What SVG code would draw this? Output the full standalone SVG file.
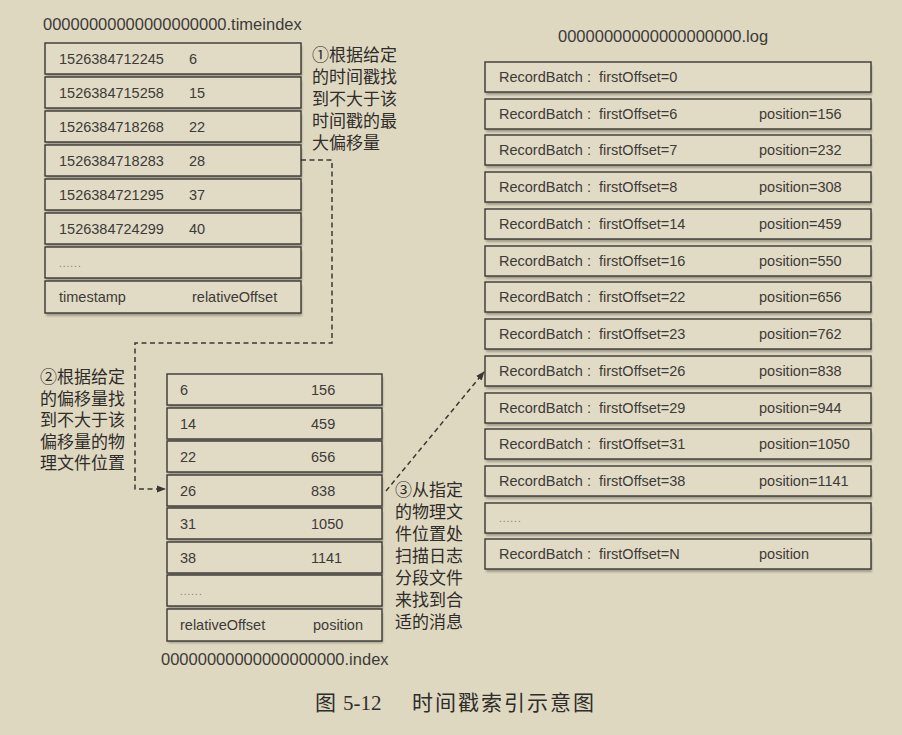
<svg xmlns="http://www.w3.org/2000/svg" width="902" height="735" viewBox="0 0 902 735">
  <defs>
    <style>
      .bg { fill: #dfd8c1; }
      .box { fill: #e1dac5; stroke: #3a3835; stroke-width: 1.4; }
      .shadow { fill: #6f6a5e; opacity: 0.55; filter: url(#soft); }
      .t { font-family: "Liberation Sans", Arial, sans-serif; font-size: 14.5px; fill: #3d3b38; }
      .title { font-family: "Liberation Sans", Arial, sans-serif; font-size: 16.5px; fill: #3d3b38; }
      .dots { font-family: "Liberation Sans", Arial, sans-serif; font-size: 10px; fill: #7d7a72; letter-spacing: 1px; }
      .cn { font-family: "Liberation Sans", "Noto Sans CJK SC", sans-serif; font-size: 17px; fill: #2f2d2a; }
      .cap { font-family: "Liberation Serif", "Noto Sans CJK SC", serif; font-size: 21px; fill: #2f2d2a; }
      .dash { fill: none; stroke: #3a3835; stroke-width: 1.5; stroke-dasharray: 5 3.5; }
    </style>
    <filter id="soft" x="-5%" y="-30%" width="110%" height="160%">
      <feGaussianBlur stdDeviation="1.2"/>
    </filter>
    <marker id="arr" viewBox="0 0 10 10" refX="9" refY="5" markerWidth="9" markerHeight="9" markerUnits="userSpaceOnUse" orient="auto">
      <path d="M0,1 L10,5 L0,9 Z" fill="#3a3835"/>
    </marker>
  </defs>

  <rect class="bg" x="0" y="0" width="902" height="735"/>

  <!-- time index file -->
  <g id="timeindex">
    <text class="title" x="43" y="30">00000000000000000000.timeindex</text>
    <g id="ti-row1"><rect class="shadow" x="46" y="46" width="256" height="31"/><rect class="box" x="45" y="43" width="256" height="31"/><text class="t" x="59" y="63.5">1526384712245</text><text class="t" x="189" y="63.5">6</text></g>
    <g id="ti-row2"><rect class="shadow" x="46" y="80" width="256" height="31"/><rect class="box" x="45" y="77" width="256" height="31"/><text class="t" x="59" y="97.5">1526384715258</text><text class="t" x="189" y="97.5">15</text></g>
    <g id="ti-row3"><rect class="shadow" x="46" y="114" width="256" height="31"/><rect class="box" x="45" y="111" width="256" height="31"/><text class="t" x="59" y="131.5">1526384718268</text><text class="t" x="189" y="131.5">22</text></g>
    <g id="ti-row4"><rect class="shadow" x="46" y="148" width="256" height="31"/><rect class="box" x="45" y="145" width="256" height="31"/><text class="t" x="59" y="165.5">1526384718283</text><text class="t" x="189" y="165.5">28</text></g>
    <g id="ti-row5"><rect class="shadow" x="46" y="182" width="256" height="31"/><rect class="box" x="45" y="179" width="256" height="31"/><text class="t" x="59" y="199.5">1526384721295</text><text class="t" x="189" y="199.5">37</text></g>
    <g id="ti-row6"><rect class="shadow" x="46" y="216" width="256" height="31"/><rect class="box" x="45" y="213" width="256" height="31"/><text class="t" x="59" y="233.5">1526384724299</text><text class="t" x="189" y="233.5">40</text></g>
    <g id="ti-row7"><rect class="shadow" x="46" y="250" width="256" height="31"/><rect class="box" x="45" y="247" width="256" height="31"/><text class="dots" x="59" y="267">......</text></g>
    <g id="ti-row8"><rect class="shadow" x="46" y="285" width="256" height="31"/><rect class="box" x="45" y="281" width="256" height="32"/><text class="t" x="59" y="302">timestamp</text><text class="t" x="192" y="302">relativeOffset</text></g>
  </g>

  <!-- offset index file -->
  <g id="index">
    <g id="ix-row1"><rect class="shadow" x="168" y="377" width="215" height="31"/><rect class="box" x="167" y="374" width="215" height="31"/><text class="t" x="180" y="394.5">6</text><text class="t" x="311" y="394.5">156</text></g>
    <g id="ix-row2"><rect class="shadow" x="168" y="411" width="215" height="31"/><rect class="box" x="167" y="408" width="215" height="31"/><text class="t" x="180" y="428.5">14</text><text class="t" x="311" y="428.5">459</text></g>
    <g id="ix-row3"><rect class="shadow" x="168" y="444" width="215" height="31"/><rect class="box" x="167" y="441" width="215" height="31"/><text class="t" x="180" y="461.5">22</text><text class="t" x="311" y="461.5">656</text></g>
    <g id="ix-row4"><rect class="shadow" x="168" y="478" width="215" height="31"/><rect class="box" x="167" y="475" width="215" height="31"/><text class="t" x="180" y="495.5">26</text><text class="t" x="311" y="495.5">838</text></g>
    <g id="ix-row5"><rect class="shadow" x="168" y="511" width="215" height="31"/><rect class="box" x="167" y="508" width="215" height="31"/><text class="t" x="180" y="528.5">31</text><text class="t" x="311" y="528.5">1050</text></g>
    <g id="ix-row6"><rect class="shadow" x="168" y="545" width="215" height="31"/><rect class="box" x="167" y="542" width="215" height="31"/><text class="t" x="180" y="562.5">38</text><text class="t" x="311" y="562.5">1141</text></g>
    <g id="ix-row7"><rect class="shadow" x="168" y="578" width="215" height="31"/><rect class="box" x="167" y="575" width="215" height="31"/><text class="dots" x="180" y="595">......</text></g>
    <g id="ix-row8"><rect class="shadow" x="168" y="612" width="215" height="31"/><rect class="box" x="167" y="609" width="215" height="32"/><text class="t" x="180" y="629.5">relativeOffset</text><text class="t" x="313" y="629.5">position</text></g>
    <text class="title" x="161" y="665">00000000000000000000.index</text>
  </g>

  <!-- log segment file -->
  <g id="log">
    <text class="title" x="558" y="42">00000000000000000000.log</text>
    <g id="lg-row1"><rect class="shadow" x="486" y="65" width="386" height="30"/><rect class="box" x="485" y="62" width="386" height="30"/><text class="t" y="82"><tspan x="499">RecordBatch</tspan><tspan x="587">:</tspan><tspan x="599">firstOffset=0</tspan></text></g>
    <g id="lg-row2"><rect class="shadow" x="486" y="102" width="386" height="30"/><rect class="box" x="485" y="99" width="386" height="30"/><text class="t" y="119"><tspan x="499">RecordBatch</tspan><tspan x="587">:</tspan><tspan x="599">firstOffset=6</tspan><tspan x="759">position=156</tspan></text></g>
    <g id="lg-row3"><rect class="shadow" x="486" y="138" width="386" height="30"/><rect class="box" x="485" y="135" width="386" height="30"/><text class="t" y="155"><tspan x="499">RecordBatch</tspan><tspan x="587">:</tspan><tspan x="599">firstOffset=7</tspan><tspan x="759">position=232</tspan></text></g>
    <g id="lg-row4"><rect class="shadow" x="486" y="175" width="386" height="30"/><rect class="box" x="485" y="172" width="386" height="30"/><text class="t" y="192"><tspan x="499">RecordBatch</tspan><tspan x="587">:</tspan><tspan x="599">firstOffset=8</tspan><tspan x="759">position=308</tspan></text></g>
    <g id="lg-row5"><rect class="shadow" x="486" y="212" width="386" height="30"/><rect class="box" x="485" y="209" width="386" height="30"/><text class="t" y="229"><tspan x="499">RecordBatch</tspan><tspan x="587">:</tspan><tspan x="599">firstOffset=14</tspan><tspan x="759">position=459</tspan></text></g>
    <g id="lg-row6"><rect class="shadow" x="486" y="249" width="386" height="30"/><rect class="box" x="485" y="246" width="386" height="30"/><text class="t" y="266"><tspan x="499">RecordBatch</tspan><tspan x="587">:</tspan><tspan x="599">firstOffset=16</tspan><tspan x="759">position=550</tspan></text></g>
    <g id="lg-row7"><rect class="shadow" x="486" y="285" width="386" height="30"/><rect class="box" x="485" y="282" width="386" height="30"/><text class="t" y="302"><tspan x="499">RecordBatch</tspan><tspan x="587">:</tspan><tspan x="599">firstOffset=22</tspan><tspan x="759">position=656</tspan></text></g>
    <g id="lg-row8"><rect class="shadow" x="486" y="322" width="386" height="30"/><rect class="box" x="485" y="319" width="386" height="30"/><text class="t" y="339"><tspan x="499">RecordBatch</tspan><tspan x="587">:</tspan><tspan x="599">firstOffset=23</tspan><tspan x="759">position=762</tspan></text></g>
    <g id="lg-row9"><rect class="shadow" x="486" y="359" width="386" height="30"/><rect class="box" x="485" y="356" width="386" height="30"/><text class="t" y="376"><tspan x="499">RecordBatch</tspan><tspan x="587">:</tspan><tspan x="599">firstOffset=26</tspan><tspan x="759">position=838</tspan></text></g>
    <g id="lg-row10"><rect class="shadow" x="486" y="396" width="386" height="30"/><rect class="box" x="485" y="393" width="386" height="30"/><text class="t" y="413"><tspan x="499">RecordBatch</tspan><tspan x="587">:</tspan><tspan x="599">firstOffset=29</tspan><tspan x="759">position=944</tspan></text></g>
    <g id="lg-row11"><rect class="shadow" x="486" y="432" width="386" height="30"/><rect class="box" x="485" y="429" width="386" height="30"/><text class="t" y="449"><tspan x="499">RecordBatch</tspan><tspan x="587">:</tspan><tspan x="599">firstOffset=31</tspan><tspan x="759">position=1050</tspan></text></g>
    <g id="lg-row12"><rect class="shadow" x="486" y="469" width="386" height="30"/><rect class="box" x="485" y="466" width="386" height="30"/><text class="t" y="486"><tspan x="499">RecordBatch</tspan><tspan x="587">:</tspan><tspan x="599">firstOffset=38</tspan><tspan x="759">position=1141</tspan></text></g>
    <g id="lg-row13"><rect class="shadow" x="486" y="506" width="386" height="30"/><rect class="box" x="485" y="503" width="386" height="30"/><text class="dots" x="499" y="522">......</text></g>
    <g id="lg-row14"><rect class="shadow" x="486" y="542" width="386" height="30"/><rect class="box" x="485" y="539" width="386" height="30"/><text class="t" y="559"><tspan x="499">RecordBatch</tspan><tspan x="587">:</tspan><tspan x="599">firstOffset=N</tspan><tspan x="759">position</tspan></text></g>
  </g>

  <!-- step notes -->
  <g id="note1">
    <text class="cn"><tspan x="312" y="61">①根据给定</tspan><tspan x="312" y="83">的时间戳找</tspan><tspan x="312" y="105">到不大于该</tspan><tspan x="312" y="127">时间戳的最</tspan><tspan x="312" y="149">大偏移量</tspan></text>
  </g>
  <g id="note2">
    <text class="cn"><tspan x="40" y="383">②根据给定</tspan><tspan x="40" y="404.5">的偏移量找</tspan><tspan x="40" y="426">到不大于该</tspan><tspan x="40" y="447.5">偏移量的物</tspan><tspan x="40" y="469">理文件位置</tspan></text>
  </g>
  <g id="note3">
    <text class="cn"><tspan x="395" y="496">③从指定</tspan><tspan x="395" y="518">的物理文</tspan><tspan x="395" y="540">件位置处</tspan><tspan x="395" y="562">扫描日志</tspan><tspan x="395" y="584">分段文件</tspan><tspan x="395" y="606">来找到合</tspan><tspan x="395" y="628">适的消息</tspan></text>
  </g>

  <!-- connectors -->
  <g id="connectors">
    <path class="dash" d="M301,160 H332 V343 H135 V489 H165" marker-end="url(#arr)"/>
    <path class="dash" d="M386,491 L484,372" marker-end="url(#arr)"/>
  </g>

  <text class="cap" y="710"><tspan x="315">图</tspan><tspan x="343">5-12</tspan><tspan x="412" letter-spacing="2">时间戳索引示意图</tspan></text>
</svg>
